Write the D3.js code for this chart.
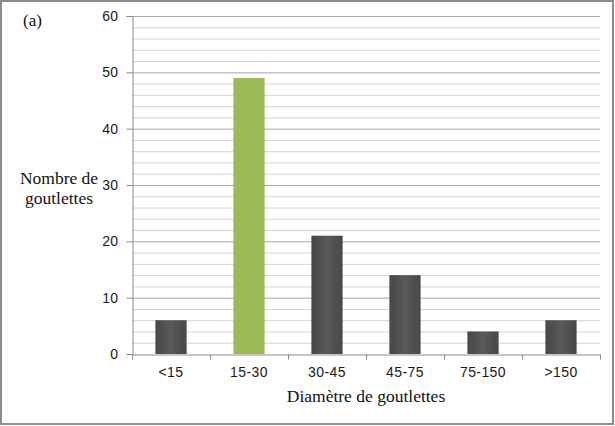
<!DOCTYPE html>
<html><head><meta charset="utf-8">
<script src="https://cdn.jsdelivr.net/npm/d3@7"></script>
<style>body{margin:0;background:#fff}svg{display:block}</style>
</head><body>
<script>
const categories = ["<15","15-30","30-45","45-75","75-150",">150"];
const values = [6,49,21,14,4,6];
const highlight = ["15-30"];
const yMajorTicks = [0,10,20,30,40,50,60];
const yMinorStep = 2;

const W=615,H=426;
const m={left:132,right:15,top:16,bottom:72};
const svg=d3.select("body").append("svg").attr("width",W).attr("height",H);
svg.append("rect").attr("x",1).attr("y",1).attr("width",W-3).attr("height",H-3)
  .attr("fill","#fff").attr("stroke","#8c8c8c").attr("stroke-width",2);

const defs=svg.append("defs");
const gd=defs.append("linearGradient").attr("id","gdark").attr("x1",0).attr("x2",1).attr("y1",0).attr("y2",0);
gd.append("stop").attr("offset","0%").attr("stop-color","#474747");
gd.append("stop").attr("offset","50%").attr("stop-color","#5a5a5a");
gd.append("stop").attr("offset","100%").attr("stop-color","#474747");

const x=d3.scaleBand().domain(categories).range([m.left,W-m.right]).paddingInner(0.6).paddingOuter(0.3);
const xb=d3.scaleBand().domain(categories).range([m.left,W-m.right]).padding(0);
const y=d3.scaleLinear().domain([0,60]).range([H-m.bottom,m.top]);

const minor=d3.range(0,61,yMinorStep).filter(v=>v%10!==0);
svg.append("g").selectAll("line").data(minor).join("line")
  .attr("x1",m.left).attr("x2",W-m.right).attr("y1",d=>y(d)+0.5).attr("y2",d=>y(d)+0.5)
  .attr("stroke","#d4d4d4").attr("stroke-width",1);
svg.append("g").selectAll("line").data(yMajorTicks.filter(v=>v>0)).join("line")
  .attr("x1",m.left).attr("x2",W-m.right).attr("y1",d=>y(d)+0.5).attr("y2",d=>y(d)+0.5)
  .attr("stroke","#a8a8a8").attr("stroke-width",1);

svg.append("g").selectAll("rect").data(categories).join("rect")
  .attr("x",d=>x(d)).attr("width",x.bandwidth())
  .attr("y",(d,i)=>y(values[i])).attr("height",(d,i)=>y(0)-y(values[i]))
  .attr("fill",d=>highlight.includes(d)?"#9bbb59":"url(#gdark)");

const sans="Liberation Sans, Arial, sans-serif";
const ya=svg.append("g").attr("transform",`translate(${m.left+0.5},0)`)
  .call(d3.axisLeft(y).tickValues(yMajorTicks).tickSize(6).tickPadding(8));
ya.select(".domain").attr("stroke","#8c8c8c");
ya.selectAll(".tick line").attr("stroke","#8c8c8c");
ya.selectAll("text").attr("font-family",sans).attr("font-size",14).attr("letter-spacing","0.4").attr("fill","#1a1a1a");

const xa=svg.append("g").attr("transform",`translate(0,${y(0)+0.5})`)
  .call(d3.axisBottom(xb).tickSize(0).tickPadding(13));
xa.select(".domain").attr("stroke","#8c8c8c");
xa.selectAll("text").attr("font-family",sans).attr("font-size",14).attr("letter-spacing","0.4").attr("fill","#1a1a1a");
const edges=categories.map(c=>xb(c)).concat([W-m.right]);
xa.append("g").selectAll("line").data(edges).join("line")
  .attr("x1",d=>d+0.5).attr("x2",d=>d+0.5).attr("y1",0).attr("y2",5).attr("stroke","#8c8c8c");

const serif="Liberation Serif, Times New Roman, serif";
svg.append("text").attr("x",(m.left+W-m.right)/2).attr("y",402).attr("text-anchor","middle")
  .attr("font-family",serif).attr("font-size",17.5).attr("fill","#111").text("Diamètre de goutlettes");
const yt=svg.append("text").attr("text-anchor","middle").attr("font-family",serif).attr("font-size",17.5).attr("fill","#111");
yt.append("tspan").attr("x",59).attr("y",184).text("Nombre de");
yt.append("tspan").attr("x",59).attr("y",204).text("goutlettes");
svg.append("text").attr("x",23).attr("y",26).attr("font-family",serif).attr("font-size",17).attr("fill","#111").text("(a)");
</script>
</body></html>
